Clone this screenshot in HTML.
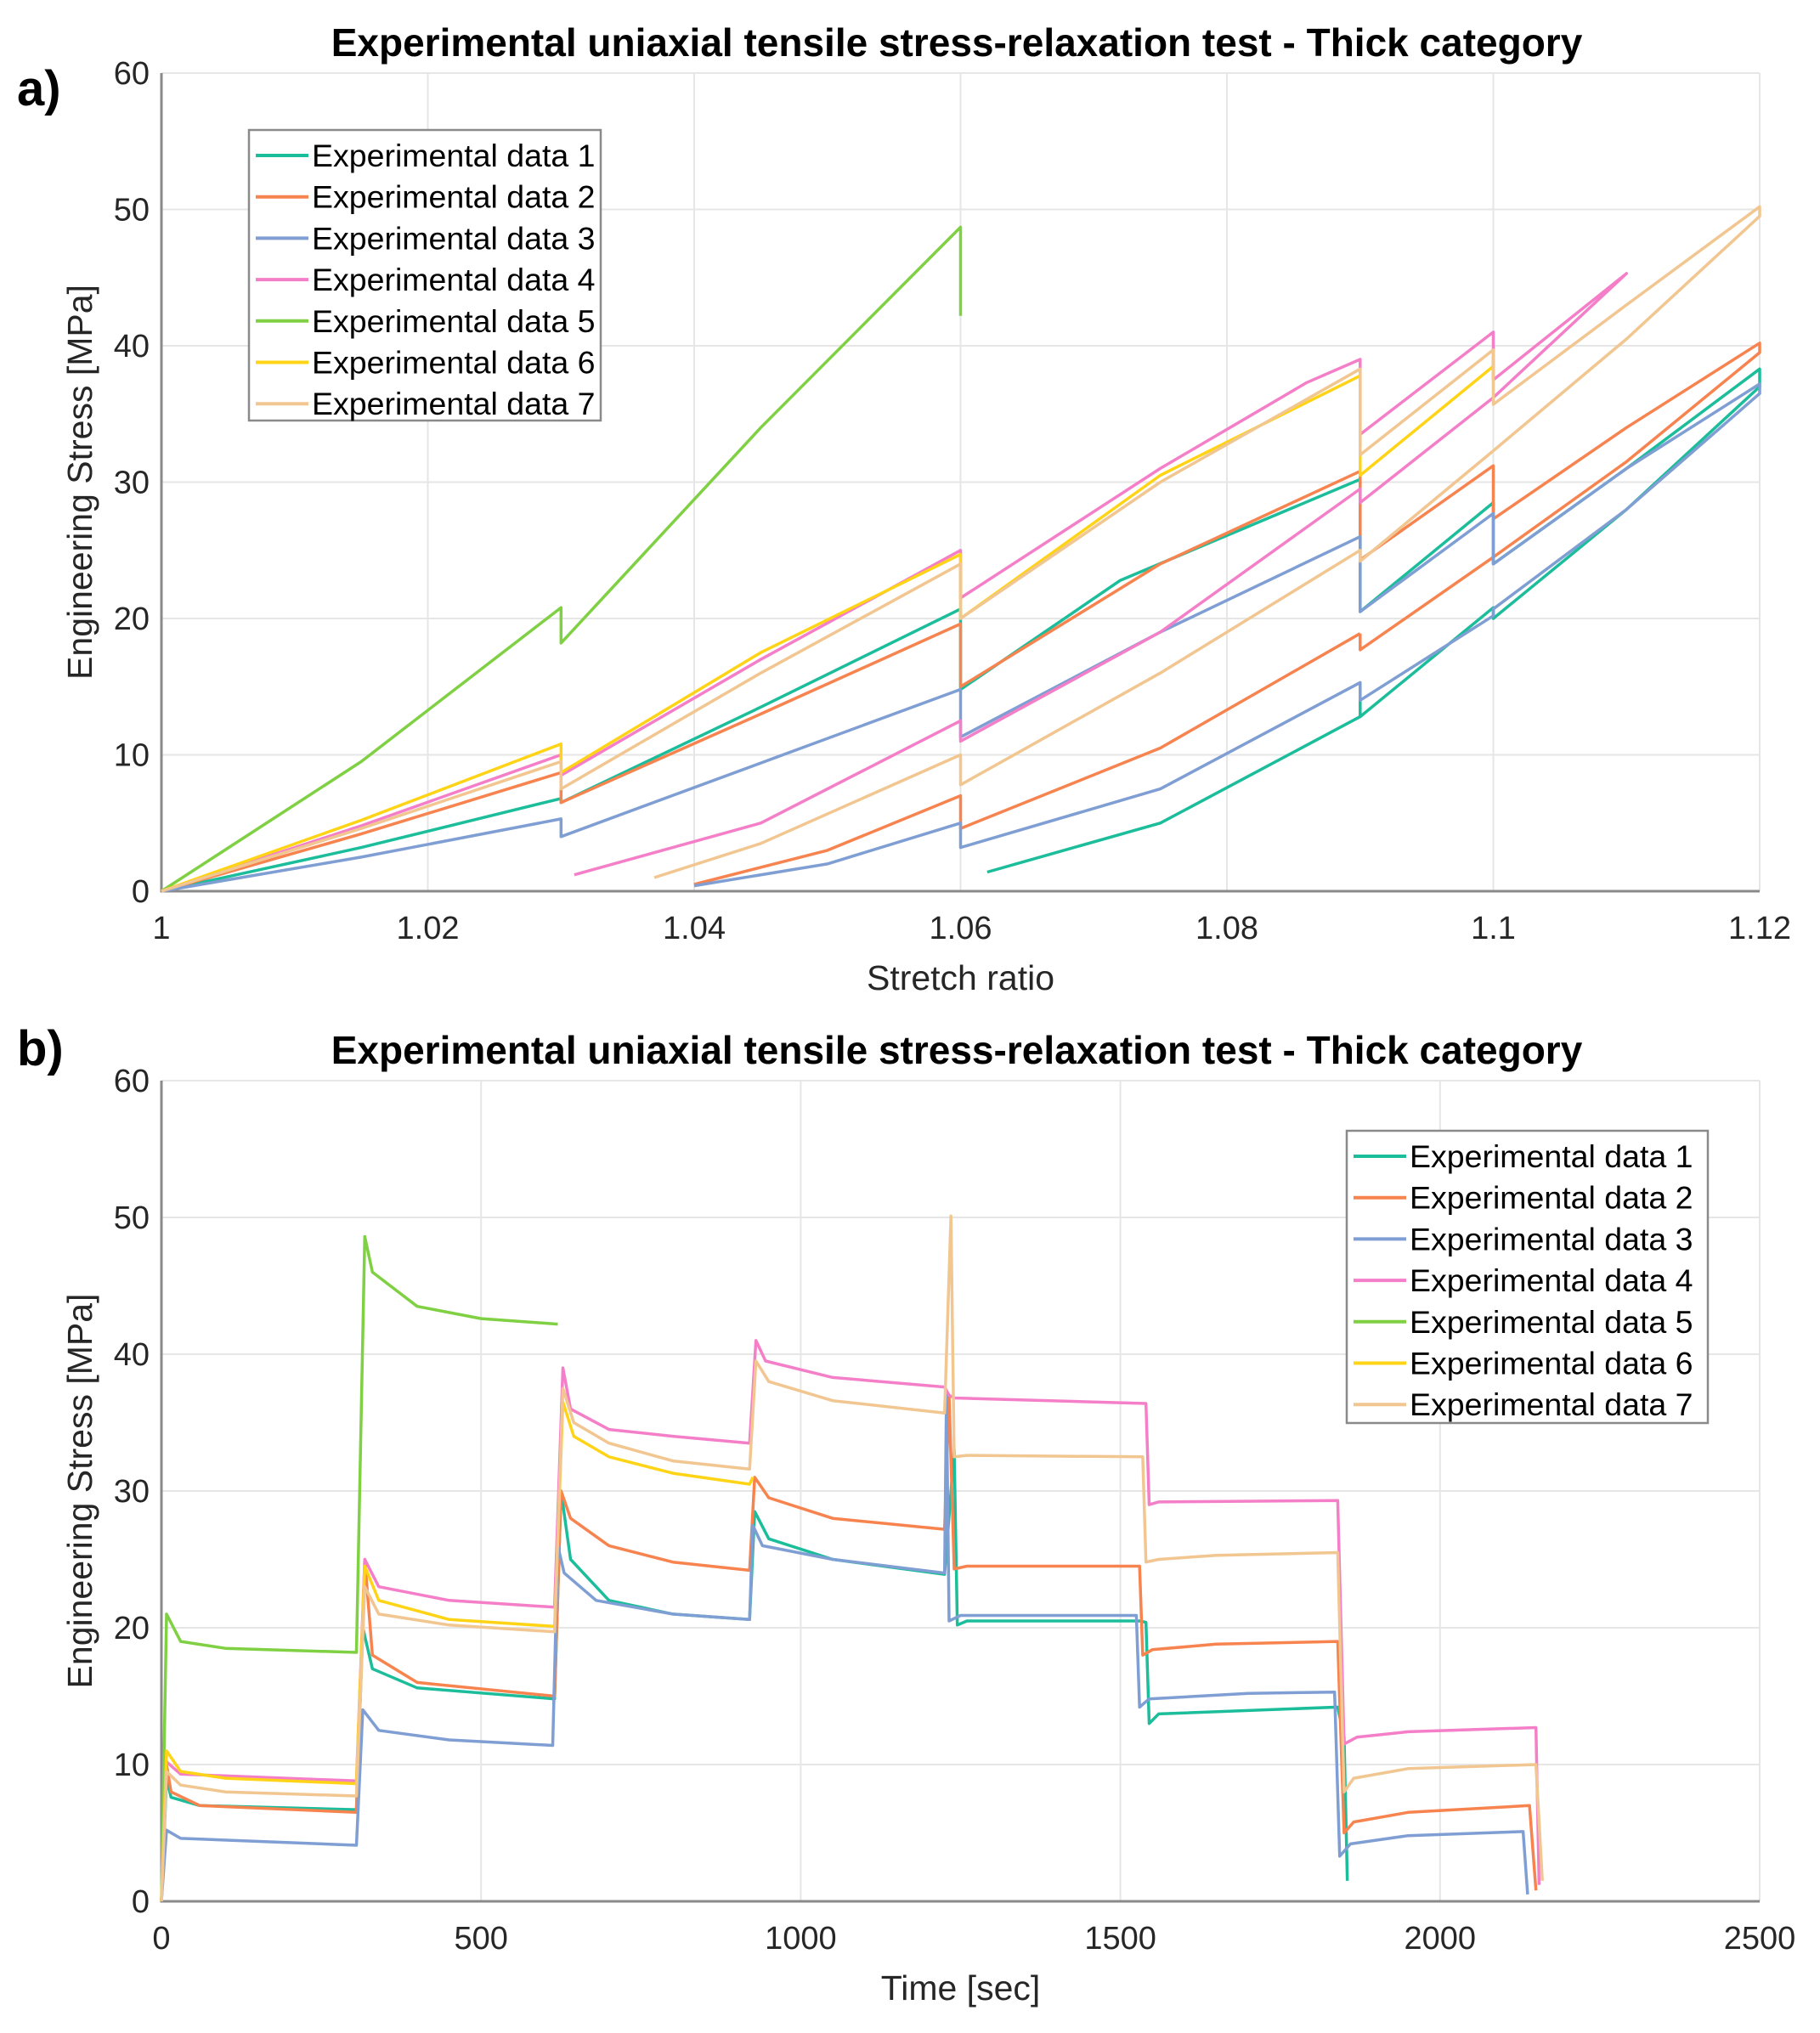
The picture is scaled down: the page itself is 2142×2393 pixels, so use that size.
<!DOCTYPE html>
<html><head><meta charset="utf-8"><style>
body{margin:0;background:#fff}
svg{display:block;font-family:"Liberation Sans",Arial,sans-serif}
</style></head><body>
<svg id="fig" width="2142" height="2393" viewBox="0 0 2142 2393" xmlns="http://www.w3.org/2000/svg">
<rect width="2142" height="2393" fill="#fff"/>
<text x="20" y="124" font-size="58" font-weight="bold">a)</text>
<text x="20" y="1254" font-size="58" font-weight="bold">b)</text>
<g id="pa"></g>
<g id="pb"></g>
</svg>
<script>
const seriesNames = ["Experimental data 1","Experimental data 2","Experimental data 3","Experimental data 4","Experimental data 5","Experimental data 6","Experimental data 7"];
const seriesColors = ["#1bbd9b","#f7834f","#7f9ed3","#f47fc8","#7fd043","#ffd416","#f2c690"];
const aXTicks = [1,1.02,1.04,1.06,1.08,1.1,1.12];
const aXTickLabels = ["1","1.02","1.04","1.06","1.08","1.1","1.12"];
const yTicks = [0,10,20,30,40,50,60];
const bXTicks = [0,500,1000,1500,2000,2500];
// Panel a: segments per series (stretch, stress)
const a1 = [[[1,0],[1.015,3.2],[1.03,6.8],[1.03,6.5],[1.045,13.5],[1.06,20.7],[1.06,14.8],[1.072,22.8],[1.09,30.2],[1.09,20.5],[1.1,28.5],[1.1,24],[1.11,31],[1.12,38.3],[1.12,37],[1.11,28],[1.1,20],[1.1,20.8],[1.09,12.8],[1.09,14],[1.09,12.8],[1.075,5],[1.062,1.4]]];
const a2 = [[[1,0],[1.015,4.2],[1.03,8.7],[1.03,6.5],[1.045,13],[1.06,19.6],[1.06,15],[1.075,24],[1.09,30.8],[1.09,24.3],[1.1,31.2],[1.1,27.3],[1.11,34],[1.12,40.2],[1.12,39.5],[1.11,31.5],[1.1,24.5],[1.09,17.7],[1.09,18.9]],[[1.04,0.5],[1.05,3],[1.06,7],[1.06,4.6],[1.075,10.5],[1.09,18.9]]];
const a3 = [[[1,0],[1.015,2.5],[1.03,5.3],[1.03,4],[1.045,9.4],[1.06,14.8],[1.06,11.3],[1.075,19],[1.09,26],[1.09,20.5],[1.1,27.7],[1.1,24],[1.11,31],[1.12,37.2],[1.12,36.5],[1.11,28],[1.1,20.7],[1.1,20.2],[1.09,14],[1.09,15.3],[1.075,7.5],[1.06,3.2],[1.06,5],[1.05,2],[1.04,0.4]]];
const a4 = [[[1,0],[1.015,4.8],[1.03,10],[1.03,8.5],[1.045,17],[1.06,25],[1.06,21.5],[1.075,31],[1.086,37.3],[1.09,39],[1.09,33.5],[1.1,41],[1.1,37.5],[1.11,45.3],[1.1,36.2],[1.09,28.5],[1.09,29.5],[1.075,19],[1.06,11],[1.06,12.5],[1.045,5],[1.031,1.2]]];
const a5 = [[[1,0],[1.015,9.5],[1.03,20.8],[1.03,18.2],[1.045,34],[1.06,48.7],[1.06,42.2]]];
const a6 = [[[1,0],[1.015,5.2],[1.03,10.8],[1.03,8.7],[1.045,17.5],[1.06,24.7],[1.06,20],[1.075,30.5],[1.09,37.8],[1.09,30.5],[1.1,38.5]]];
const a7 = [[[1,0],[1.015,4.6],[1.03,9.5],[1.03,7.5],[1.045,16],[1.06,24],[1.06,20],[1.075,30],[1.09,38.3],[1.09,32],[1.1,39.7],[1.1,35.7],[1.11,43],[1.12,50.2],[1.12,49.5],[1.11,40.5],[1.1,32.3],[1.09,24.2],[1.09,25],[1.075,16],[1.06,7.8],[1.06,10],[1.045,3.5],[1.037,1]]];
const aData = [a1,a2,a3,a4,a5,a6,a7];
// Panel b: (time, stress)
const b1 = [[0,0],[8,9],[15,7.6],[60,7],[305,6.7],[315,20],[330,17],[400,15.6],[615,14.8],[625,30],[640,25],[700,22],[800,21],[920,20.6],[928,28.5],[950,26.5],[1050,25],[1225,23.9],[1240,33],[1245,20.2],[1260,20.5],[1530,20.5],[1540,20.4],[1545,13],[1560,13.7],[1840,14.2],[1850,12],[1855,1.5]];
const b2 = [[0,0],[8,10],[15,8],[60,7],[305,6.5],[318,25],[330,18],[400,16],[615,15],[625,30],[640,28],[700,26],[800,24.8],[920,24.2],[928,31],[950,29.5],[1050,28],[1225,27.2],[1232,37],[1240,24.3],[1260,24.5],[1530,24.5],[1535,18],[1550,18.4],[1650,18.8],[1840,19],[1850,5],[1865,5.8],[1950,6.5],[2140,7],[2150,0.8]];
const b3 = [[0,0],[8,5.2],[30,4.6],[305,4.1],[315,14],[340,12.5],[450,11.8],[612,11.4],[620,26],[630,24],[680,22],[800,21],[920,20.6],[925,27.5],[940,26],[1050,25],[1225,24],[1228,37],[1232,20.5],[1250,20.9],[1525,20.9],[1530,14.2],[1545,14.8],[1700,15.2],[1835,15.3],[1843,3.3],[1860,4.2],[1950,4.8],[2130,5.1],[2137,0.5]];
const b4 = [[0,0],[8,10.2],[30,9.3],[305,8.8],[318,25],[340,23],[450,22],[615,21.5],[628,39],[640,36],[700,34.5],[800,34],[920,33.5],[930,41],[945,39.5],[1050,38.3],[1225,37.6],[1232,37],[1240,36.8],[1540,36.4],[1545,29],[1560,29.2],[1840,29.3],[1850,11.5],[1870,12],[1950,12.4],[2150,12.7],[2155,1.2]];
const b5 = [[0,0],[8,21],[30,19],[100,18.5],[305,18.2],[318,48.6],[330,46],[400,43.5],[500,42.6],[620,42.2]];
const b6 = [[0,0],[8,11],[30,9.5],[100,9],[305,8.6],[318,24.5],[340,22],[450,20.6],[615,20.1],[628,36.5],[645,34],[700,32.5],[800,31.3],[920,30.5],[925,31]];
const b7 = [[0,0],[8,9.5],[30,8.5],[100,8],[305,7.7],[318,23],[340,21],[450,20.2],[615,19.7],[628,37.5],[645,35],[700,33.5],[800,32.2],[920,31.6],[930,39.5],[950,38],[1050,36.6],[1225,35.7],[1235,50.1],[1240,32.5],[1260,32.6],[1535,32.5],[1540,24.8],[1560,25],[1650,25.3],[1840,25.5],[1850,8],[1865,9],[1950,9.7],[2150,10],[2160,1.5]];
const bData = [[b1],[b2],[b3],[b4],[b5],[b6],[b7]];

const NS="http://www.w3.org/2000/svg";
function mk(tag,parent,attrs){const e=document.createElementNS(NS,tag);for(const k in attrs)e.setAttribute(k,attrs[k]);parent.appendChild(e);return e;}

function drawPanel(g, box, xMin, xMax, xTicks, xLabels, xTitle, data, legendBox){
  const X=v=>box.l+(v-xMin)/(xMax-xMin)*(box.r-box.l);
  const Y=v=>box.b-(v/60)*(box.b-box.t);
  xTicks.forEach((v,i)=>{
    const gl=mk('line',g,{x1:X(v),x2:X(v),y1:box.t,y2:box.b,stroke:'#e6e6e6','stroke-width':2});
    
    
    const t=mk('text',g,{x:X(v),y:box.b+56,'font-size':38,'text-anchor':'middle',fill:'#262626'});
    t.textContent=xLabels[i];
    
    
  });
  yTicks.forEach(v=>{
    const gl=mk('line',g,{x1:box.l,x2:box.r,y1:Y(v),y2:Y(v),stroke:'#e6e6e6','stroke-width':2});
    
    
    const t=mk('text',g,{x:box.l-14,y:Y(v)+13,'font-size':38,'text-anchor':'end',fill:'#262626'});
    t.textContent=String(v);
    
    
  });
  const ax=mk('path',g,{d:`M${box.l},${box.t}V${box.b}H${box.r}`,fill:'none',stroke:'#8a8a8a','stroke-width':3});
  
  
  data.forEach((segs,si)=>{
    segs.forEach(seg=>{
      const p=mk('polyline',g,{points:seg.map(q=>X(q[0]).toFixed(1)+','+Y(q[1]).toFixed(1)).join(' '),fill:'none',stroke:seriesColors[si],'stroke-width':3.5,'stroke-linejoin':'round'});
      
      
    });
  });
  const tt=mk('text',g,{x:1126,y:box.t-20,'font-size':46,'font-weight':'bold','text-anchor':'middle',fill:'#000'});
  tt.textContent='Experimental uniaxial tensile stress-relaxation test - Thick category';
  
  
  const xt=mk('text',g,{x:(box.l+box.r)/2,y:box.b+116,'font-size':41,'text-anchor':'middle',fill:'#262626'});
  xt.textContent=xTitle;
  
  
  const cy=(box.t+box.b)/2;
  const yt=mk('text',g,{x:108,y:cy,'font-size':41,'text-anchor':'middle',fill:'#262626',transform:`rotate(-90 108 ${cy})`});
  yt.textContent='Engineering Stress [MPa]';
  
  
  const lg=mk('g',g,{});
  
  
  mk('rect',lg,{x:legendBox.x,y:legendBox.y,width:legendBox.w,height:legendBox.h,fill:'#fff',stroke:'#8a8a8a','stroke-width':2.5});
  seriesNames.forEach((n,i)=>{
    const yy=legendBox.y+30+i*48.7;
    const en=mk('g',lg,{});
    
    
    mk('line',en,{x1:legendBox.x+8,x2:legendBox.x+70,y1:yy,y2:yy,stroke:seriesColors[i],'stroke-width':4});
    const t=mk('text',en,{x:legendBox.x+74,y:yy+13,'font-size':37.5,fill:'#000'});
    t.textContent=n;
  });
}
drawPanel(document.getElementById('pa'),{l:190,r:2071,t:86,b:1049},1,1.12,aXTicks,aXTickLabels,'Stretch ratio',aData,{x:293,y:153,w:414,h:342});
drawPanel(document.getElementById('pb'),{l:190,r:2071,t:1272,b:2238},0,2500,bXTicks,bXTicks.map(String),'Time [sec]',bData,{x:1585,y:1331,w:425,h:344});
</script>
</body></html>
